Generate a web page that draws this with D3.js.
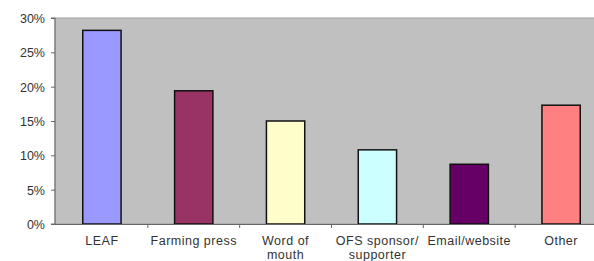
<!DOCTYPE html>
<html>
<head>
<meta charset="utf-8">
<script src="https://cdn.jsdelivr.net/npm/d3@7"></script>
<style>
  body { margin: 0; background: #fff; }
  svg { display: block; }
  text { font-family: Arial, "Liberation Sans", sans-serif; fill: #333; }
</style>
</head>
<body>
<svg id="chart"></svg>
<script>
const width = 594;
const height = 261;

// data
const categories = ["LEAF", "Farming press", "Word of mouth", "OFS sponsor/ supporter", "Email/website", "Other"];
const labelLines = [["LEAF"], ["Farming press"], ["Word of", "mouth"], ["OFS sponsor/", "supporter"], ["Email/website"], ["Other"]];
const values = [0.282, 0.194, 0.150, 0.108, 0.087, 0.173];
const barColors = ["#9999ff", "#993366", "#ffffcc", "#ccffff", "#660066", "#ff8080"];
const yTicks = [0, 0.05, 0.10, 0.15, 0.20, 0.25, 0.30];

const margin = { top: 18, left: 55, bottom: 224 };
const plotRight = 607; // plot area runs past the right edge of the picture

const svg = d3.select("#chart")
    .attr("width", width)
    .attr("height", height);

const x = d3.scaleBand()
    .domain(categories)
    .range([margin.left + 1, plotRight])
    .paddingInner(0.583)
    .paddingOuter(0.2915);

const y = d3.scaleLinear()
    .domain([0, 0.30])
    .range([margin.bottom, margin.top]);

// plot area
svg.append("rect")
    .attr("x", margin.left)
    .attr("y", margin.top)
    .attr("width", plotRight - margin.left)
    .attr("height", margin.bottom - margin.top)
    .attr("fill", "#c0c0c0")
    .attr("stroke", "#a0a0a0")
    .attr("stroke-width", 1);

// bars
svg.selectAll(".bar")
    .data(values)
    .join("rect")
    .attr("class", "bar")
    .attr("x", (d, i) => x(categories[i]))
    .attr("y", d => y(d))
    .attr("width", x.bandwidth())
    .attr("height", d => y(0) - y(d))
    .attr("fill", (d, i) => barColors[i])
    .attr("stroke", "#111")
    .attr("stroke-width", 1.5);

// y axis
const yAxis = d3.axisLeft(y)
    .tickValues(yTicks)
    .tickFormat(d3.format(".0%"))
    .tickSize(4)
    .tickPadding(6);

const gy = svg.append("g")
    .attr("transform", `translate(${margin.left},0)`)
    .call(yAxis);
gy.select(".domain").attr("stroke", "#666").attr("d", `M-4,${margin.top}H0V${margin.bottom}H-4`);
gy.selectAll(".tick line").attr("stroke", "#666");
gy.selectAll(".tick text")
    .style("font-size", "12.5px")
    .style("fill", "#333")
    .attr("dy", "0.36em");

// x axis: ticks sit on category boundaries
const bounds = categories.map(c => x(c) - x.step() * x.paddingInner() / 2).slice(1);
const gx = svg.append("g");
gx.append("line")
    .attr("x1", margin.left)
    .attr("x2", plotRight)
    .attr("y1", margin.bottom + 0.5)
    .attr("y2", margin.bottom + 0.5)
    .attr("stroke", "#666");
gx.selectAll(".xtick")
    .data(bounds)
    .join("line")
    .attr("class", "xtick")
    .attr("x1", d => d)
    .attr("x2", d => d)
    .attr("y1", margin.bottom)
    .attr("y2", margin.bottom + 4)
    .attr("stroke", "#666");

// category labels
const labels = svg.selectAll(".xlabel")
    .data(categories)
    .join("text")
    .attr("class", "xlabel")
    .attr("text-anchor", "middle")
    .attr("x", d => x(d) + x.bandwidth() / 2)
    .attr("y", 245)
    .style("font-size", "12.5px")
    .style("letter-spacing", "0.5px");

labels.selectAll("tspan")
    .data((d, i) => labelLines[i])
    .join("tspan")
    .attr("x", function () { return d3.select(this.parentNode).attr("x"); })
    .attr("dy", (d, i) => i === 0 ? 0 : 14)
    .text(d => d);
</script>
</body>
</html>
